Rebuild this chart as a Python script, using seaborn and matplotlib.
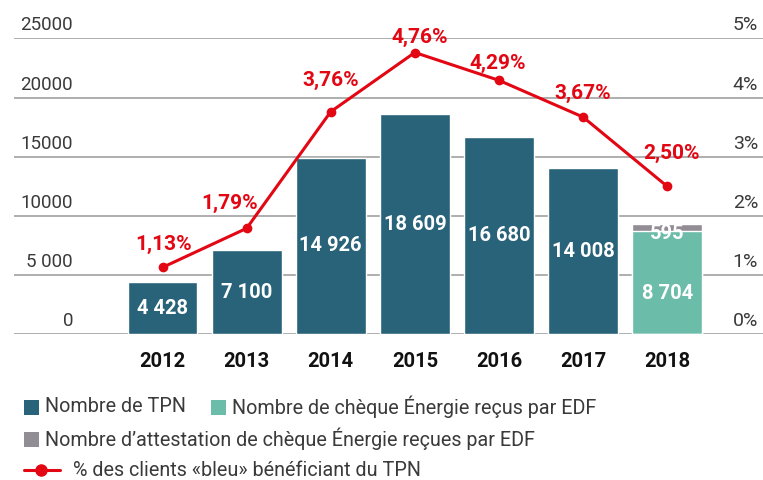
import numpy as np
import pandas as pd
import seaborn as sns
import matplotlib
matplotlib.use("Agg")
import matplotlib.pyplot as plt
from matplotlib import transforms
from matplotlib.patches import Rectangle
from matplotlib.lines import Line2D

# ---------------- data ----------------
years = ["2012", "2013", "2014", "2015", "2016", "2017", "2018"]
tpn = [4428, 7100, 14926, 18609, 16680, 14008, 0]
cheque = [0, 0, 0, 0, 0, 0, 8704]
attestation = [0, 0, 0, 0, 0, 0, 595]
pct_bleu = [1.13, 1.79, 3.76, 4.76, 4.29, 3.67, 2.50]
pct_labels = ["1,13%", "1,79%", "3,76%", "4,76%", "4,29%", "3,67%", "2,50%"]
tpn_labels = ["4 428", "7 100", "14 926", "18 609", "16 680", "14 008", ""]
cheque_label = "8 704"
attest_label = "595"
left_ticks = [0, 5000, 10000, 15000, 20000, 25000]
left_tick_labels = ["0", "5 000", "10000", "15000", "20000", "25000"]
right_ticks = [0, 1, 2, 3, 4, 5]
right_tick_labels = ["0%", "1%", "2%", "3%", "4%", "5%"]
legend_labels = ["Nombre de TPN", "Nombre de chèque Énergie reçus par EDF",
                 "Nombre d\u2019attestation de chèque Énergie reçues par EDF",
                 "% des clients «bleu» bénéficiant du TPN"]

# ---------------- style ----------------
C_TPN = "#29637a"
C_CHQ = "#6cbcaa"
C_ATT = "#928d94"
C_RED = "#e30613"
C_TXT = "#3a3a3a"
C_GRID = "#a8a8a8"
# label offsets (pixels: dx, dy upward) for the percentage labels
pct_offsets = [(1, 23), (-17, 25), (0, 31), (5, 15), (-1, 17), (0, 24), (4, 33)]

sns.set_theme(style="white")
plt.rcParams["font.family"] = ["Roboto", "DejaVu Sans"]

W, H = 763, 480
fig = plt.figure(figsize=(W / 100, H / 100), dpi=100)
ax = fig.add_axes([14 / W, 1 - 334.3 / H, 749 / W, (334.3 - 38.3) / H])

df = pd.DataFrame({"year": years, "tpn": tpn, "cheque": cheque,
                   "total2018": [c + a for c, a in zip(cheque, attestation)]})

sns.barplot(data=df, x="year", y="total2018", color=C_ATT, width=0.83,
            saturation=1, ax=ax, zorder=3)
sns.barplot(data=df, x="year", y="cheque", color=C_CHQ, width=0.83,
            saturation=1, ax=ax, zorder=3)
sns.barplot(data=df, x="year", y="tpn", color=C_TPN, width=0.83,
            saturation=1, ax=ax, zorder=3)

ax.set_xlim(-1.766, 7.14)
ax.set_ylim(0, 25000)
ax.set_xlabel("")
ax.set_ylabel("")
for s in ax.spines.values():
    s.set_visible(False)
ax.set_yticks(left_ticks)
ax.set_yticklabels([])
ax.tick_params(axis="y", length=0)
ax.yaxis.grid(True, color=C_GRID, linewidth=1.3, zorder=0)
ax.set_axisbelow(True)
ax.tick_params(axis="x", length=0, pad=13)
ax.set_xticks(range(len(years)))
ax.set_xticklabels(years, fontsize=14.5, fontweight="bold", color="#111111")

# left tick labels above gridlines
tl = transforms.offset_copy(transforms.blended_transform_factory(fig.transFigure, ax.transData),
                            fig=fig, y=13, units="dots")
for v, lab in zip(left_ticks, left_tick_labels):
    fig.text(73 / W, v, lab, transform=tl, ha="right", va="center",
             fontsize=13.5, color=C_TXT)

# bar labels
for i, (v, lab) in enumerate(zip(tpn, tpn_labels)):
    if v > 0:
        ax.text(i, v / 2, lab, ha="center", va="center", color="white",
                fontsize=14.5, fontweight="bold", zorder=5)
ax.annotate(cheque_label, (6, cheque[6] / 2), xytext=(0, -8), textcoords="offset points",
            ha="center", va="center", color="white", fontsize=14.5, fontweight="bold", zorder=5)
ax.annotate(attest_label, (6, cheque[6] + attestation[6] / 2), xytext=(0, -4),
            textcoords="offset points", ha="center", va="center", color="white",
            fontsize=14.5, fontweight="bold", zorder=5)

# secondary axis with line
ax2 = ax.twinx()
ax2.set_ylim(0, 5)
for s in ax2.spines.values():
    s.set_visible(False)
ax2.set_yticks([])
ax2.grid(False)
sns.lineplot(x=list(range(len(years))), y=pct_bleu, ax=ax2, color=C_RED,
             linewidth=2.2, marker="o", markersize=7, markeredgewidth=0, zorder=6)
ax2.set_xlim(-1.766, 7.14)
ax2.set_ylabel("")
for i, (v, lab) in enumerate(zip(pct_bleu, pct_labels)):
    dx, dy = pct_offsets[i]
    ax2.annotate(lab, (i, v), xytext=(dx * 0.72, dy * 0.72), textcoords="offset points",
                 ha="center", va="center", color=C_RED, fontsize=15, fontweight="bold",
                 zorder=7, annotation_clip=False)

tr = transforms.offset_copy(transforms.blended_transform_factory(fig.transFigure, ax2.transData),
                            fig=fig, y=13, units="dots")
for v, lab in zip(right_ticks, right_tick_labels):
    fig.text(758 / W, v, lab, transform=tr, ha="right", va="center",
             fontsize=14, color=C_TXT)

# legend (manual)
def fx(x):
    return x / W

def fy(y):
    return 1 - y / H

sq = 15
for (x0, yc, col) in [(24, 407, C_TPN), (211, 407, C_CHQ), (24, 439, C_ATT)]:
    fig.add_artist(Rectangle((fx(x0), fy(yc + sq / 2)), sq / W, sq / H,
                             transform=fig.transFigure, color=col, lw=0))
fs_leg = 14.2
fig.text(fx(45), fy(407), legend_labels[0], ha="left", va="center", fontsize=fs_leg,
         color=C_TXT)
fig.text(fx(232), fy(407), legend_labels[1], ha="left", va="center", fontsize=fs_leg,
         color=C_TXT)
fig.text(fx(45), fy(439), legend_labels[2], ha="left", va="center", fontsize=fs_leg,
         color=C_TXT)
fig.add_artist(Line2D([fx(24), fx(60)], [fy(470), fy(470)], transform=fig.transFigure,
                      color=C_RED, lw=2.2))
fig.add_artist(Line2D([fx(41)], [fy(470)], transform=fig.transFigure, color=C_RED,
                      marker="o", markersize=9, markeredgewidth=0))
fig.text(fx(73), fy(470), legend_labels[3], ha="left", va="center", fontsize=fs_leg,
         color=C_TXT)

fig.savefig("out.png", dpi=100)
